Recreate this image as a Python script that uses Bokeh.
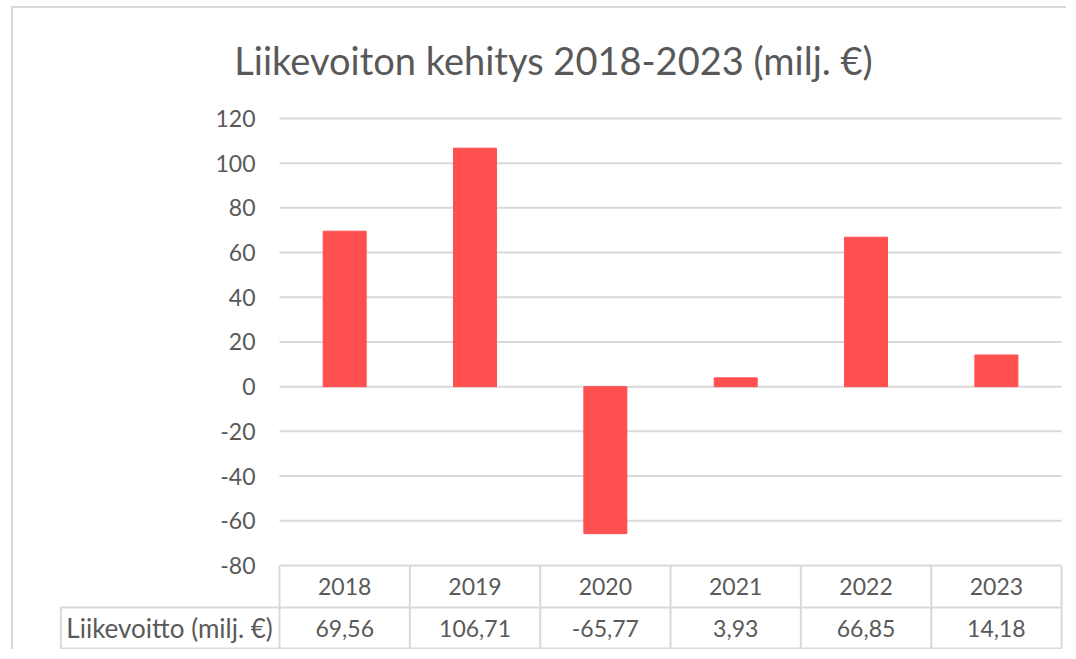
from bokeh.plotting import figure
from bokeh.models import ColumnDataSource, LinearAxis, FixedTicker, Range1d, Label
from bokeh.core.properties import value
from bokeh.embed import file_html
from bokeh.resources import INLINE

# ---- data ----
title_text = "Liikevoiton kehitys 2018-2023 (milj. €)"
years = ["2018", "2019", "2020", "2021", "2022", "2023"]
liikevoitto = [69.56, 106.71, -65.77, 3.93, 66.85, 14.18]
row_label = "Liikevoitto (milj. €)"
y_ticks = [-80, -60, -40, -20, 0, 20, 40, 60, 80, 100, 120]

# ---- style ----
TEXT = "#595959"
LINE = "#d9d9d9"
BAR = "#ff5050"
FONT = "Lato"

n = len(years)
label_col = 1.688          # width of the table's label column, in category units
row_h = 18.8               # table row height, in value units
y_min = min(y_ticks)
head_room = 49.2           # space above the top tick for the title, in value units

xs = [i + 0.5 for i in range(n)]
labels = [f"{v:.2f}".replace(".", ",") for v in liikevoitto]
src = ColumnDataSource(dict(x=xs, top=liikevoitto, year=years, lab=labels))

p = figure(width=1055, height=643, output_backend="svg", toolbar_location=None,
           x_range=Range1d(-label_col, n + 0.015),
           y_range=Range1d(y_min - 2 * row_h - 0.9, max(y_ticks) + head_room),
           x_axis_location=None, y_axis_location=None,
           min_border_left=46, min_border_right=5, min_border_top=0, min_border_bottom=0,
           outline_line_color=None, border_fill_color="white", background_fill_color="white")
p.styles = {"margin-top": "6px", "margin-left": "11px",
            "border-top": "2px solid #d9d9d9", "border-left": "2px solid #d9d9d9"}
p.xgrid.visible = False
p.ygrid.visible = False

# y axis placed at the start of the first category
yax = LinearAxis(ticker=FixedTicker(ticks=y_ticks), fixed_location=0)
yax.axis_line_color = None
yax.major_tick_line_color = None
yax.minor_tick_line_color = None
yax.major_tick_out = 0
yax.major_tick_in = 0
yax.major_label_standoff = 24
yax.major_label_overrides = {t: str(t) for t in y_ticks}
yax.major_label_text_font = FONT
yax.major_label_text_font_size = "23px"
yax.major_label_text_color = TEXT
p.add_layout(yax, "left")

# gridlines
p.segment(x0=[0] * len(y_ticks), x1=[n] * len(y_ticks), y0=y_ticks, y1=y_ticks,
          line_color=LINE, line_width=2)

# bars
p.vbar(x="x", top="top", bottom=0, width=0.33, source=src, fill_color=BAR, line_color=BAR)

# data table
r1 = y_min - row_h
r2 = y_min - 2 * row_h + 0.4
p.segment(x0=[-label_col + 0.01, -label_col + 0.01], x1=[n, n], y0=[r1, r2], y1=[r1, r2],
          line_color=LINE, line_width=2)
vx = list(range(n + 1))
p.segment(x0=vx, x1=vx, y0=[y_min] * (n + 1), y1=[r2] * (n + 1), line_color=LINE, line_width=2)
p.segment(x0=[-label_col + 0.01], x1=[-label_col + 0.01], y0=[r1], y1=[r2], line_color=LINE, line_width=2)

p.text(x="x", y=y_min - row_h / 2, text="year", source=src, text_align="center", text_baseline="middle",
       text_font=value(FONT), text_font_size="23px", text_color=TEXT)
p.text(x="x", y=y_min - 1.5 * row_h, text="lab", source=src, text_align="center", text_baseline="middle",
       text_font=value(FONT), text_font_size="23px", text_color=TEXT)
p.text(x=[-label_col / 2], y=[y_min - 1.5 * row_h], text=[row_label], text_align="center",
       text_baseline="middle", text_font=value(FONT), text_font_size="26px", text_color=TEXT)

# title
p.add_layout(Label(x=494, y=592, x_units="screen", y_units="screen", text=title_text,
                   text_align="center", text_baseline="middle", text_font="Lato",
                   text_font_size="38px", text_color=TEXT))

open("out.html", "w").write(file_html(p, INLINE))
